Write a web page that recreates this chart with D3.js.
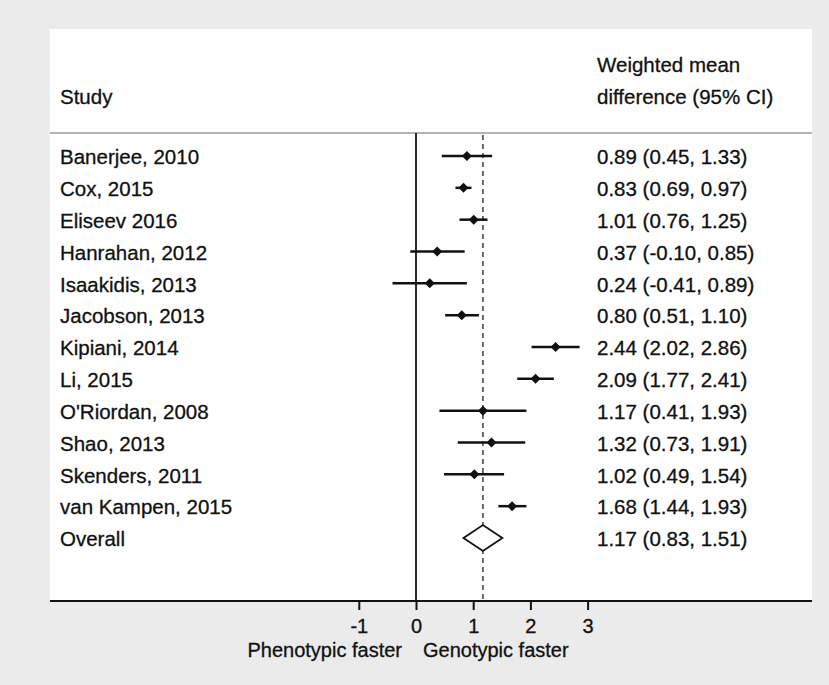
<!DOCTYPE html>
<html>
<head>
<meta charset="utf-8">
<script src="https://cdn.jsdelivr.net/npm/d3@7"></script>
<style>
  body { margin: 0; background: #ebebeb; }
  text { font-family: "Liberation Sans", Arial, Helvetica, sans-serif; fill: #111; stroke: #111; stroke-width: 0.3px; }
</style>
</head>
<body>
<div id="chart"></div>
<script>

var studies = ["Banerjee, 2010", "Cox, 2015", "Eliseev 2016", "Hanrahan, 2012", "Isaakidis, 2013",
  "Jacobson, 2013", "Kipiani, 2014", "Li, 2015", "O'Riordan, 2008", "Shao, 2013",
  "Skenders, 2011", "van Kampen, 2015"];
var estimates = [0.89, 0.83, 1.01, 0.37, 0.24, 0.80, 2.44, 2.09, 1.17, 1.32, 1.02, 1.68];
var lower = [0.45, 0.69, 0.76, -0.10, -0.41, 0.51, 2.02, 1.77, 0.41, 0.73, 0.49, 1.44];
var upper = [1.33, 0.97, 1.25, 0.85, 0.89, 1.10, 2.86, 2.41, 1.93, 1.91, 1.54, 1.93];
var ciLabels = ["0.89 (0.45, 1.33)", "0.83 (0.69, 0.97)", "1.01 (0.76, 1.25)", "0.37 (-0.10, 0.85)",
  "0.24 (-0.41, 0.89)", "0.80 (0.51, 1.10)", "2.44 (2.02, 2.86)", "2.09 (1.77, 2.41)",
  "1.17 (0.41, 1.93)", "1.32 (0.73, 1.91)", "1.02 (0.49, 1.54)", "1.68 (1.44, 1.93)"];
var overall = { label: "Overall", est: 1.17, lo: 0.83, hi: 1.51, text: "1.17 (0.83, 1.51)" };
var xTicks = [-1, 0, 1, 2, 3];

var W = 829, H = 685;
var panel = { x0: 50, y0: 29, x1: 812, y1: 601 };
var headerLine = 133;
var fontSize = 20.5;
var axisFont = 20;

var svg = d3.select("#chart").append("svg")
  .attr("width", W)
  .attr("height", H);

svg.append("rect")
  .attr("width", W).attr("height", H)
  .attr("fill", "#ebebeb");

svg.append("rect")
  .attr("x", panel.x0).attr("y", panel.y0)
  .attr("width", panel.x1 - panel.x0)
  .attr("height", panel.y1 - panel.y0)
  .attr("fill", "#fff");

var xScale = d3.scaleLinear().domain([0, 3]).range([416, 587.6]);

var rows = studies.concat([overall.label]);
var yScale = d3.scalePoint().domain(rows).range([156, 538]);

// header
svg.append("text")
  .attr("x", 60).attr("y", 97)
  .attr("dy", "0.35em")
  .style("font-size", fontSize + "px")
  .text("Study");

svg.append("text")
  .attr("x", 597).attr("y", 65)
  .attr("dy", "0.35em")
  .style("font-size", fontSize + "px")
  .text("Weighted mean");

svg.append("text")
  .attr("x", 597).attr("y", 97)
  .attr("dy", "0.35em")
  .style("font-size", fontSize + "px")
  .text("difference (95% CI)");

svg.append("line")
  .attr("x1", panel.x0).attr("x2", panel.x1)
  .attr("y1", headerLine).attr("y2", headerLine)
  .attr("stroke", "#9a9a9a")
  .attr("stroke-width", 1.3);

// reference lines
svg.append("line")
  .attr("x1", xScale(0)).attr("x2", xScale(0))
  .attr("y1", headerLine).attr("y2", panel.y1)
  .attr("stroke", "#111")
  .attr("stroke-width", 1.8);

svg.append("line")
  .attr("x1", xScale(overall.est)).attr("x2", xScale(overall.est))
  .attr("y1", headerLine + 2).attr("y2", panel.y1)
  .attr("stroke", "#555")
  .attr("stroke-width", 1.7)
  .attr("stroke-dasharray", "5,4");

// study rows
var data = studies.map(function(s, i) {
  return { study: s, est: estimates[i], lo: lower[i], hi: upper[i], text: ciLabels[i] };
});

var row = svg.append("g").selectAll("g")
  .data(data)
  .enter().append("g")
  .attr("transform", function(d) { return "translate(0," + yScale(d.study) + ")"; });

row.append("text")
  .attr("x", 60)
  .attr("dy", "0.4em")
  .style("font-size", fontSize + "px")
  .text(function(d) { return d.study; });

row.append("text")
  .attr("x", 597)
  .attr("dy", "0.4em")
  .style("font-size", fontSize + "px")
  .text(function(d) { return d.text; });

row.append("line")
  .attr("x1", function(d) { return xScale(d.lo); })
  .attr("x2", function(d) { return xScale(d.hi); })
  .attr("stroke", "#111")
  .attr("stroke-width", 2.5);

row.append("path")
  .attr("d", "M-5,0L0,-5L5,0L0,5Z")
  .attr("transform", function(d) { return "translate(" + xScale(d.est) + ",0)"; })
  .attr("fill", "#111");

// overall
var oy = yScale(overall.label);
svg.append("text")
  .attr("x", 60).attr("y", oy)
  .attr("dy", "0.4em")
  .style("font-size", fontSize + "px")
  .text(overall.label);

svg.append("text")
  .attr("x", 597).attr("y", oy)
  .attr("dy", "0.4em")
  .style("font-size", fontSize + "px")
  .text(overall.text);

svg.append("path")
  .attr("d", "M" + xScale(overall.lo) + "," + oy +
    "L" + xScale(overall.est) + "," + (oy - 13) +
    "L" + xScale(overall.hi) + "," + oy +
    "L" + xScale(overall.est) + "," + (oy + 13) + "Z")
  .attr("fill", "#fff")
  .attr("stroke", "#111")
  .attr("stroke-width", 1.8);

// x axis
svg.append("line")
  .attr("x1", panel.x0).attr("x2", panel.x1)
  .attr("y1", panel.y1).attr("y2", panel.y1)
  .attr("stroke", "#111")
  .attr("stroke-width", 2);

var xAxis = d3.axisBottom(xScale)
  .tickValues(xTicks)
  .tickSize(9)
  .tickPadding(9)
  .tickFormat(function(d) { return String(d); });

var axisG = svg.append("g")
  .attr("transform", "translate(0," + panel.y1 + ")")
  .call(xAxis);

axisG.select(".domain").remove();
axisG.selectAll(".tick line").attr("stroke", "#111").attr("stroke-width", 2);
axisG.selectAll(".tick text")
  .style("font-size", axisFont + "px")
  .style("font-family", "'Liberation Sans', Arial, sans-serif")
  .attr("fill", "#111");

svg.append("text")
  .attr("x", xScale(0) - 14).attr("y", 650)
  .attr("dy", "0.35em")
  .attr("text-anchor", "end")
  .style("font-size", axisFont + "px")
  .text("Phenotypic faster");

svg.append("text")
  .attr("x", xScale(0) + 7).attr("y", 650)
  .attr("dy", "0.35em")
  .style("font-size", axisFont + "px")
  .text("Genotypic faster");

</script>
</body>
</html>
